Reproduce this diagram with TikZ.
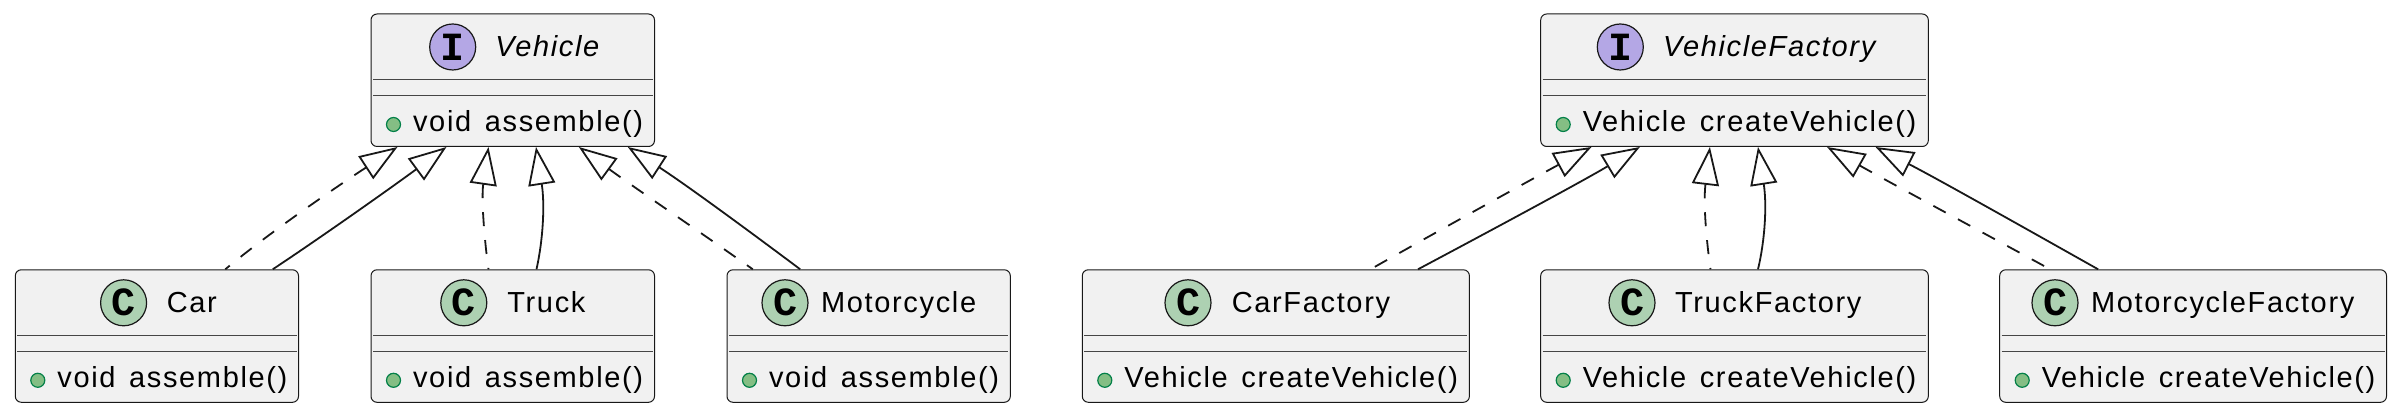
\documentclass[tikz,border=0pt]{standalone}
\usepackage{fontspec}
\usepackage{tikz}
\usetikzlibrary{arrows.meta, calc}
\setmainfont[LetterSpace=5.7, WordSpace=1.4]{Liberation Sans}
\newfontfamily\markfont{Liberation Mono}
\definecolor{boxfill}{HTML}{F1F1F1}
\definecolor{boxline}{HTML}{181818}
\definecolor{markC}{HTML}{ADD1B2}
\definecolor{markI}{HTML}{B4A7E5}
\definecolor{dotfill}{HTML}{84BE84}
\definecolor{dotline}{HTML}{038048}
\tikzset{
  classbox/.style={draw=boxline, fill=boxfill, line width=0.5pt, rounded corners=3pt, inner sep=0, minimum height=66.25pt},
  classmark/.style={circle, draw=boxline, line width=0.6pt, minimum size=23pt, inner sep=0, font=\markfont\bfseries\fontsize{20pt}{20pt}\selectfont},
  titleC/.style={anchor=base west, inner sep=0, font=\fontsize{14.5pt}{16pt}\selectfont},
  titleI/.style={anchor=base west, inner sep=0, font=\itshape\fontsize{14.5pt}{16pt}\selectfont},
  method/.style={anchor=base west, inner sep=0, font=\fontsize{14.5pt}{16pt}\selectfont},
  publicdot/.style={circle, draw=dotline, fill=dotfill, line width=0.6pt, minimum size=7pt, inner sep=0},
  rule/.style={draw=boxline!80, line width=0.5pt},
  extends/.style={draw=boxline, line width=0.9pt, {Triangle[open, fill=white, length=19pt, width=13.5pt]}-},
  realizes/.style={extends, dash pattern=on 7pt off 7pt}
}
\newcommand*{\umlclass}[9]{
  \node[classbox, minimum width={(#3-#2)*0.5pt}] (#1) at ({(#2+#3)/2}, #4+66.25) {};
  \node[classmark, fill=mark#5] (#1mark) at (#6, #4+33) {#5};
  \node[title#5] (#1title) at (#7, #4+43) {#8};
  \node[publicdot] (#1dot) at (#2+22.5, #4+110.5) {};
  \node[method] (#1method) at (#2+41.7, #4+117.5) {#9};
  \draw[rule] ($(#1.north west)+(2.5,66)$) -- ($(#1.north east)+(-2.5,66)$);
  \draw[rule] ($(#1.north west)+(2.5,82.3)$) -- ($(#1.north east)+(-2.5,82.3)$);
}

\begin{document}
\begin{tikzpicture}[x=0.5pt, y=-0.5pt]
  \useasboundingbox (0, 0) rectangle (2400, 415);

  \umlclass{vehicle}{371}{654.5}{14}{I}{452.7}{495}{Vehicle}{void assemble()}
  \umlclass{car}{15.3}{298.5}{269.8}{C}{123.6}{166.5}{Car}{void assemble()}
  \umlclass{truck}{371}{654.5}{269.8}{C}{463.8}{507}{Truck}{void assemble()}
  \umlclass{motorcycle}{727}{1010.3}{269.8}{C}{785}{820.7}{Motorcycle}{void assemble()}

  \umlclass{factory}{1540.7}{1928.3}{14}{I}{1620.3}{1662.7}{VehicleFactory}{Vehicle createVehicle()}
  \umlclass{carfactory}{1082.3}{1469.4}{269.8}{C}{1188}{1231.4}{CarFactory}{Vehicle createVehicle()}
  \umlclass{truckfactory}{1540.7}{1928.3}{269.8}{C}{1632}{1674.7}{TruckFactory}{Vehicle createVehicle()}
  \umlclass{motorcyclefactory}{1999.7}{2386.5}{269.8}{C}{2055}{2090.6}{MotorcycleFactory}{Vehicle createVehicle()}

  \draw[realizes] ($(vehicle.south west)+(27,0)$) .. controls (340, 184.5) and (270, 232) .. ($(car.north west)+(210.5,0)$);
  \draw[extends] ($(vehicle.south west)+(76,0)$) .. controls (390, 188.6) and (320, 238) .. ($(car.north west)+(258,0)$);
  \draw[realizes] ($(vehicle.south west)+(118,0)$) .. controls (481, 200) and (485, 245) .. ($(truck.north west)+(118,0)$);
  \draw[extends] ($(vehicle.south west)+(165.5,0)$) .. controls (545, 205) and (543, 240) .. ($(truck.north west)+(166,0)$);
  \draw[realizes] ($(vehicle.south west)+(208.3,0)$) .. controls (635, 188) and (700, 232) .. ($(motorcycle.north west)+(26.3,0)$);
  \draw[extends] ($(vehicle.south west)+(257.3,0)$) .. controls (685, 184) and (745, 228) .. ($(motorcycle.north west)+(73.7,0)$);

  \draw[realizes] ($(factory.south west)+(51.3,0)$) .. controls (1534, 178) and (1440, 230) .. ($(carfactory.north west)+(288.7,0)$);
  \draw[extends] ($(factory.south west)+(99.7,0)$) .. controls (1583, 181) and (1490, 231) .. ($(carfactory.north west)+(336.2,0)$);
  \draw[realizes] ($(factory.south west)+(169.7,0)$) .. controls (1703, 205) and (1707, 245) .. ($(truckfactory.north west)+(170.3,0)$);
  \draw[extends] ($(factory.south west)+(217.8,0)$) .. controls (1767, 205) and (1765, 240) .. ($(truckfactory.north west)+(217.8,0)$);
  \draw[realizes] ($(factory.south west)+(286.8,0)$) .. controls (1887, 181) and (1980, 231) .. ($(motorcyclefactory.north west)+(50.9,0)$);
  \draw[extends] ($(factory.south west)+(335.3,0)$) .. controls (1936, 178) and (2030, 231) .. ($(motorcyclefactory.north west)+(98.9,0)$);
\end{tikzpicture}
\end{document}
